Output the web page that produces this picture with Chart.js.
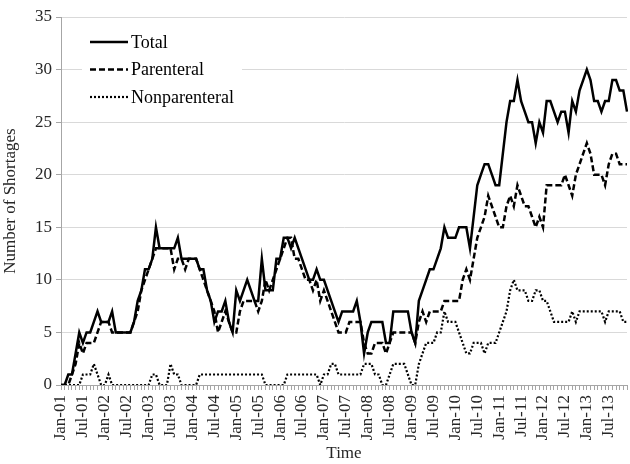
<!DOCTYPE html>
<html>
<head>
<meta charset="utf-8">
<script src="https://cdn.jsdelivr.net/npm/chart.js@4"></script>
<style>
html, body { margin: 0; padding: 0; background: #fff; }
</style>
</head>
<body>
<canvas id="graficoEscasez" width="630" height="464"></canvas>
<script>
// categorias: meses de ene-2001 a dic-2013
const meses = ['Jan', 'Feb', 'Mar', 'Apr', 'May', 'Jun', 'Jul', 'Aug', 'Sep', 'Oct', 'Nov', 'Dec'];
const anios = ['01', '02', '03', '04', '05', '06', '07', '08', '09', '10', '11', '12', '13'];

// una fila por año
const total = [
    0, 0, 1, 1, 3, 5, 4, 5, 5, 6, 7, 6,
    6, 6, 7, 5, 5, 5, 5, 5, 6, 8, 9, 11,
    11, 12, 15, 13, 13, 13, 13, 13, 14, 12, 12, 12,
    12, 12, 11, 11, 9, 8, 6, 7, 7, 8, 6, 5,
    9, 8, 9, 10, 9, 8, 8, 12, 9, 9, 9, 12,
    12, 14, 14, 13, 14, 13, 12, 11, 10, 10, 11, 10,
    10, 9, 8, 7, 6, 7, 7, 7, 7, 8, 6, 3,
    5, 6, 6, 6, 6, 4, 4, 7, 7, 7, 7, 7,
    5, 4, 8, 9, 10, 11, 11, 12, 13, 15, 14, 14,
    14, 15, 15, 15, 13, 16, 19, 20, 21, 21, 20, 19,
    19, 22, 25, 27, 27, 29, 27, 26, 25, 25, 23, 25,
    24, 27, 27, 26, 25, 26, 26, 24, 27, 26, 28, 29,
    30, 29, 27, 27, 26, 27, 27, 29, 29, 28, 28, 26
];
const parenteral = [
    0, 0, 0, 1, 2, 4, 3, 4, 4, 4, 5, 6,
    6, 6, 5, 5, 5, 5, 5, 5, 6, 7, 9, 10,
    11, 12, 13, 13, 13, 13, 13, 11, 12, 12, 11, 12,
    12, 12, 11, 10, 9, 8, 7, 5, 6, 7, 6, 5,
    5, 7, 8, 8, 8, 8, 7, 8, 10, 9, 10, 11,
    12, 13, 14, 14, 12, 12, 11, 10, 10, 9, 10, 8,
    9, 8, 7, 6, 5, 5, 5, 6, 6, 6, 6, 4,
    3, 3, 4, 4, 4, 3, 4, 5, 5, 5, 5, 5,
    5, 4, 6, 7, 6, 7, 7, 7, 7, 8, 8, 8,
    8, 8, 10, 11, 10, 12, 14, 15, 16, 18, 17, 16,
    15, 15, 17, 18, 17, 19, 18, 17, 17, 16, 15, 16,
    15, 19, 19, 19, 19, 19, 20, 19, 18, 20, 21, 22,
    23, 22, 20, 20, 20, 19, 21, 22, 22, 21, 21, 21
];
const noParenteral = [
    0, 0, 0, 0, 0, 0, 1, 1, 1, 2, 1, 0,
    0, 1, 0, 0, 0, 0, 0, 0, 0, 0, 0, 0,
    0, 1, 1, 0, 0, 0, 2, 1, 1, 0, 0, 0,
    0, 0, 1, 1, 1, 1, 1, 1, 1, 1, 1, 1,
    1, 1, 1, 1, 1, 1, 1, 1, 0, 0, 0, 0,
    0, 0, 1, 1, 1, 1, 1, 1, 1, 1, 1, 0,
    1, 1, 2, 2, 1, 1, 1, 1, 1, 1, 1, 2,
    2, 2, 1, 1, 0, 0, 1, 2, 2, 2, 2, 1,
    0, 0, 2, 3, 4, 4, 4, 5, 5, 7, 6, 6,
    6, 5, 4, 3, 3, 4, 4, 4, 3, 4, 4, 4,
    5, 6, 7, 9, 10, 9, 9, 9, 8, 8, 9, 9,
    8, 8, 7, 6, 6, 6, 6, 6, 7, 6, 7, 7,
    7, 7, 7, 7, 7, 6, 7, 7, 7, 7, 6, 6
];

const etiquetas = [];
anios.forEach(a => meses.forEach(m => etiquetas.push(m + '-' + a)));

const familia = "'Liberation Serif', 'Times New Roman', serif";
const fuente = { family: familia, size: 17 };
const colorTexto = '#262626';
const colorEje = '#a6a6a6';

// leyenda dentro del area del grafico, con fondo blanco
const leyendaInterna = {
    id: 'leyendaInterna',
    afterDatasetsDraw(chart) {
        const ctx = chart.ctx;
        ctx.save();
        ctx.fillStyle = '#fff';
        ctx.fillRect(82, 27, 160, 82);
        chart.data.datasets.forEach((ds, i) => {
            const y = 42 + i * 27.5;
            ctx.beginPath();
            ctx.setLineDash(ds.borderDash || []);
            ctx.lineWidth = ds.borderWidth;
            ctx.strokeStyle = ds.borderColor;
            ctx.moveTo(90, y);
            ctx.lineTo(128, y);
            ctx.stroke();
            ctx.setLineDash([]);
            ctx.fillStyle = '#000';
            ctx.font = `18px ${familia}`;
            ctx.textBaseline = 'middle';
            ctx.textAlign = 'left';
            ctx.fillText(ds.label, 131, y + 1);
        });
        ctx.restore();
    }
};

const ctx = document.getElementById('graficoEscasez').getContext('2d');
window.miGrafico = new Chart(ctx, {
    type: 'line',
    data: {
        labels: etiquetas,
        datasets: [
            { label: 'Total', data: total, borderColor: '#000', borderWidth: 2.5 },
            { label: 'Parenteral', data: parenteral, borderColor: '#000', borderWidth: 2.5, borderDash: [6, 3] },
            { label: 'Nonparenteral', data: noParenteral, borderColor: '#000', borderWidth: 2.2, borderDash: [2, 2] }
        ]
    },
    options: {
        responsive: false,
        animation: false,
        devicePixelRatio: 1,
        layout: { padding: { top: 17, right: 3, left: 0, bottom: 0 } },
        elements: {
            point: { radius: 0 },
            line: { tension: 0, fill: false, borderCapStyle: 'butt' }
        },
        plugins: {
            legend: { display: false },
            tooltip: { enabled: false }
        },
        scales: {
            x: {
                grid: { drawOnChartArea: false, tickLength: 5, color: colorEje },
                border: { color: colorEje },
                ticks: {
                    autoSkip: false,
                    minRotation: 90,
                    maxRotation: 90,
                    padding: 5,
                    color: colorTexto,
                    font: fuente,
                    callback: function (val, index) {
                        return index % 6 === 0 ? this.getLabelForValue(val) : '';
                    }
                },
                title: { display: true, text: 'Time', color: colorTexto, font: fuente, padding: { top: 0, bottom: 0 } },
                afterFit: s => { s.height = 79; s.paddingLeft = 0; s.paddingRight = 0; }
            },
            y: {
                min: 0,
                max: 35,
                grid: { color: '#d9d9d9', tickColor: colorEje, tickLength: 5 },
                border: { color: colorEje },
                ticks: { stepSize: 5, padding: 4, color: colorTexto, font: fuente },
                title: { display: true, text: 'Number of Shortages', color: colorTexto, font: fuente, padding: { top: 0, bottom: 3 } },
                afterFit: s => { s.width = 61; s.paddingTop = 0; s.paddingBottom = 0; }
            }
        }
    },
    plugins: [leyendaInterna]
});
</script>
</body>
</html>
